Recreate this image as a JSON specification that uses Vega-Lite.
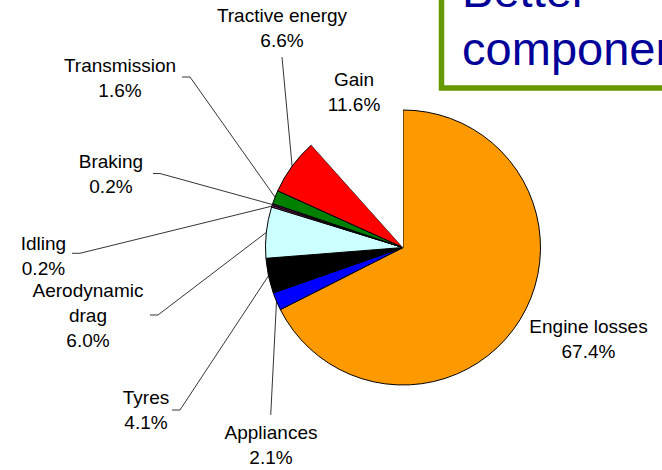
{
  "$schema": "https://vega.github.io/schema/vega-lite/v6.json",
  "width": 518,
  "height": 445,
  "autosize": {"type": "none"},
  "padding": {"left": 144, "top": 25, "right": 0, "bottom": 0},
  "background": "white",
  "config": {"view": {"stroke": null}},
  "data": {
    "values": [
      {"category": "Engine losses", "share": 0.674},
      {"category": "Appliances", "share": 0.021},
      {"category": "Tyres", "share": 0.041},
      {"category": "Aerodynamic drag", "share": 0.060},
      {"category": "Idling", "share": 0.002},
      {"category": "Braking", "share": 0.002},
      {"category": "Transmission", "share": 0.016},
      {"category": "Tractive energy", "share": 0.066},
      {"category": "Gain", "share": 0.116}
    ]
  },
  "transform": [
    {"window": [{"op": "row_number", "as": "idx"}, {"op": "sum", "field": "share", "as": "cum"}], "frame": [null, 0]},
    {"joinaggregate": [{"op": "sum", "field": "share", "as": "total"}]},
    {"calculate": "2*PI*(datum.cum - datum.share/2)/datum.total", "as": "mid"},
    {"calculate": "sin(datum.mid)", "as": "ex"},
    {"calculate": "cos(datum.mid)", "as": "ey"},
    {"calculate": "({'Engine losses':[1.349,-0.624,null,null,null,null],'Appliances':[-0.960,-1.396,-0.962,-1.218,-0.962,-1.218],'Tyres':[-1.869,-1.138,-1.622,-1.182,-1.680,-1.182],'Aerodynamic drag':[-2.291,-0.358,-1.782,-0.491,-1.840,-0.491],'Idling':[-2.615,-0.018,-2.349,-0.042,-2.407,-0.042],'Braking':[-2.124,0.576,-1.767,0.538,-1.818,0.538],'Transmission':[-2.058,1.279,-1.549,1.240,-1.607,1.240],'Tractive energy':[-0.880,1.642,-0.880,1.385,-0.880,1.385],'Gain':[-0.356,1.177,null,null,null,null]})[datum.category]", "as": "lay"},
    {"calculate": "datum.lay[0]", "as": "lx"},
    {"calculate": "datum.lay[1]", "as": "ly"},
    {"calculate": "length(datum.category) > 15 ? [split(datum.category,' ')[0], split(datum.category,' ')[1], format(datum.share,'.1%')] : [datum.category, format(datum.share,'.1%')]", "as": "lab"}
  ],
  "layer": [
    {
      "mark": {"type": "arc", "radius": 137.5, "strokeWidth": 1},
      "encoding": {
        "theta": {"field": "share", "type": "quantitative", "stack": true},
        "order": {"field": "idx", "type": "quantitative"},
        "color": {
          "field": "category",
          "type": "nominal",
          "scale": {
            "domain": ["Engine losses", "Appliances", "Tyres", "Aerodynamic drag", "Idling", "Braking", "Transmission", "Tractive energy", "Gain"],
            "range": ["#FF9900", "#0000FF", "#000000", "#CCFFFF", "#993366", "#800080", "#008000", "#FF0000", "#FFFFFF"]
          },
          "legend": null
        },
        "stroke": {"condition": {"test": "datum.category === 'Gain'", "value": "transparent"}, "value": "black"}
      }
    },
    {
      "transform": [
        {"filter": "datum.lay[2] != null"},
        {"calculate": "[[datum.ex, datum.ey, 0], [datum.lay[2], datum.lay[3], 1], [datum.lay[4], datum.lay[5], 2]]", "as": "pts"},
        {"flatten": ["pts"], "as": ["pt"]},
        {"calculate": "datum.pt[0]", "as": "px"},
        {"calculate": "datum.pt[1]", "as": "py"},
        {"calculate": "datum.pt[2]", "as": "k"}
      ],
      "mark": {"type": "line", "color": "black", "strokeWidth": 0.8},
      "encoding": {
        "x": {"field": "px", "type": "quantitative", "scale": {"domain": [-1.88364, 1.88364], "nice": false, "zero": false}, "axis": null},
        "y": {"field": "py", "type": "quantitative", "scale": {"domain": [-1.61818, 1.61818], "nice": false, "zero": false}, "axis": null},
        "detail": {"field": "category", "type": "nominal"},
        "order": {"field": "k", "type": "quantitative"}
      }
    },
    {
      "mark": {"type": "text", "font": "Liberation Sans", "fontSize": 19, "lineHeight": 25, "align": "center", "baseline": "alphabetic", "color": "black"},
      "encoding": {
        "x": {"field": "lx", "type": "quantitative", "axis": null},
        "y": {"field": "ly", "type": "quantitative", "axis": null},
        "text": {"field": "lab", "type": "nominal"}
      }
    },
    {
      "data": {"values": [{"note": "Better components"}]},
      "transform": [{"calculate": "split(datum.note, ' ')", "as": "lines"}],
      "layer": [
        {
          "mark": {"type": "rect", "fill": "white", "stroke": "#669900", "strokeWidth": 5.5},
          "encoding": {
            "x": {"datum": 0.28, "type": "quantitative"},
            "x2": {"datum": 2.5},
            "y": {"datum": 1.16, "type": "quantitative"},
            "y2": {"datum": 2.5}
          }
        },
        {
          "mark": {"type": "text", "font": "Liberation Sans", "fontSize": 47, "lineHeight": 57.5, "align": "left", "baseline": "alphabetic", "color": "#000099"},
          "encoding": {
            "x": {"datum": 0.43, "type": "quantitative"},
            "y": {"datum": 1.749, "type": "quantitative"},
            "text": {"field": "lines", "type": "nominal"}
          }
        }
      ]
    }
  ]
}
